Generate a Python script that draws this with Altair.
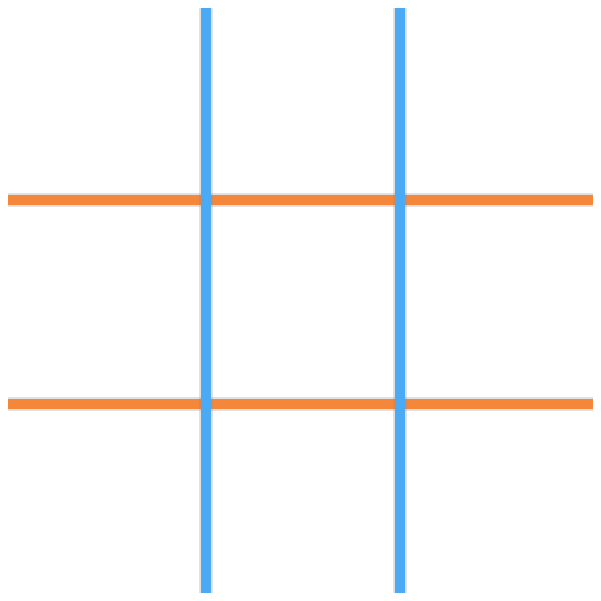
import altair as alt
import pandas as pd

# grid line positions (in plot units, 0-585)
vert_x = [198, 392]
horiz_y = [192, 396]
span = [0, 584]

vert = pd.DataFrame({"x": vert_x, "y": [span[0]] * 2, "y2": [span[1]] * 2})
horiz = pd.DataFrame({"y": horiz_y, "x": [span[0]] * 2, "x2": [span[1]] * 2})

xs = alt.Scale(domain=[0, 585], nice=False, zero=False)
ys = alt.Scale(domain=[585, 0], nice=False, zero=False)

def rules(df, vertical, color, width, opacity=1.0):
    base = alt.Chart(df).mark_rule(color=color, strokeWidth=width, strokeCap="round", opacity=opacity)
    if vertical:
        return base.encode(
            x=alt.X("x:Q", scale=xs, axis=None),
            y=alt.Y("y:Q", scale=ys, axis=None), y2="y2:Q")
    return base.encode(
        x=alt.X("x:Q", scale=xs, axis=None), x2="x2:Q",
        y=alt.Y("y:Q", scale=ys, axis=None))

chart = alt.layer(
    rules(horiz, False, "#888888", 14, 0.25),
    rules(horiz, False, "#f5873a", 10),
    rules(vert, True, "#888888", 14, 0.25),
    rules(vert, True, "#4aaaf5", 10),
).properties(
    width=585, height=585, padding=0,
    autosize=alt.AutoSizeParams(type="none"),
).configure_view(stroke=None)

chart.save("out.html", embed_options={"renderer": "svg", "actions": False})
